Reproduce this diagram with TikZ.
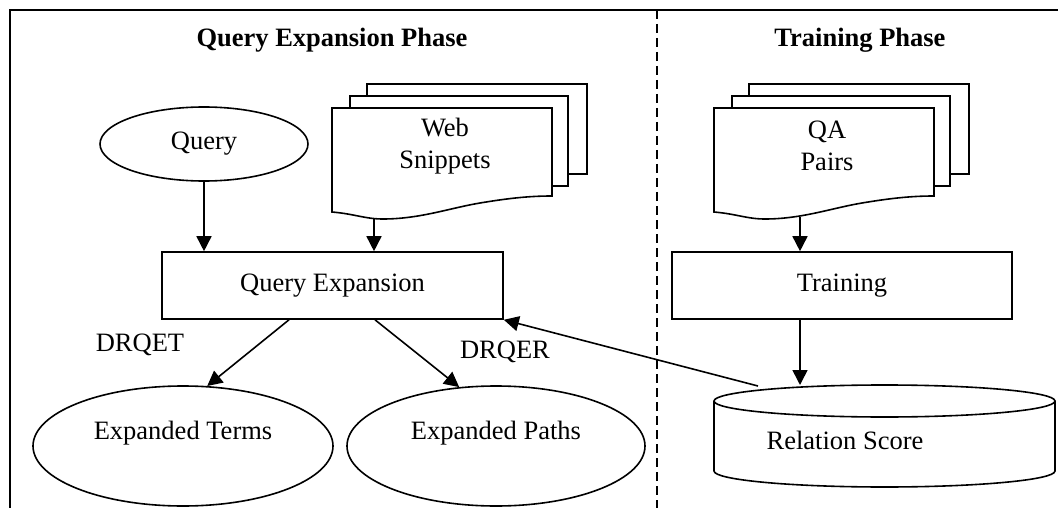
\documentclass[tikz,border=0pt]{standalone}
\usepackage{fontspec}
\setmainfont{Liberation Serif}
\usetikzlibrary{arrows.meta,shapes.geometric}

\tikzset{docs/.pic={
		\draw[fill=white] (35,24) rectangle (255,-66);
		\draw[fill=white] (18,12) rectangle (236,-78);
		\draw[fill=white] (0,0) -- (220,0) -- (220,-88)
			.. controls (198,-88) and (178,-90) .. (148,-95)
			.. controls (118,-100) and (88,-111) .. (51,-111)
			.. controls (33,-111) and (23,-106) .. (0,-104) -- cycle;
	}}

\begin{document}
\begin{tikzpicture}[x=1pt, y=1pt, line width=1.6pt,
		font=\fontsize{26.5}{32}\selectfont,
		>={Triangle[length=15pt,width=15pt]},
		box/.style={draw, rectangle, minimum width=341pt, minimum height=67pt, inner sep=0pt},
		oval/.style={draw, ellipse, inner sep=0pt}]
		\useasboundingbox (0,0) rectangle (1058,-508);
		% frame and phase divider
		\draw (10,-508) -- (10,-10) -- (1058,-10);
		\draw[dash pattern=on 9pt off 5pt, line width=1.4pt] (657,-10) -- (657,-508);
		\draw (332,-47) node [anchor=base, font=\fontsize{26.5}{32}\selectfont\bfseries] (qtitle) {Query Expansion Phase};
		\draw (860,-47) node [anchor=base, font=\fontsize{26.5}{32}\selectfont\bfseries] (ttitle) {Training Phase};
		% query expansion phase
		\draw (204,-144) node [oval, minimum width=208pt, minimum height=74pt] (query) {Query};
		\pic at (332,-108) {docs};
		\draw (445,-146) node [align=center] (ws) {Web\\Snippets};
		\coordinate (wsb) at (374,-218);
		\draw (332.5,-285.5) node [box] (qe) {Query Expansion};
		\draw (183,-446) node [oval, minimum width=300pt, minimum height=120pt, text height=18pt, text depth=32pt] (et) {Expanded Terms};
		\draw (496,-446) node [oval, minimum width=298pt, minimum height=120pt, text height=18pt, text depth=32pt] (ep) {Expanded Paths};
		\draw (140,-345) node (drqet) {DRQET};
		\draw (505,-352) node (drqer) {DRQER};
		% training phase
		\pic at (714,-108) {docs};
		\draw (827,-146) node [align=center] (qa) {QA\\Pairs};
		\coordinate (qab) at (800,-217);
		\draw (842,-285.5) node [box, minimum width=340pt] (tr) {Training};
		\draw[fill=white] (884.5,-401) ellipse [x radius=170.5pt, y radius=16pt];
		\draw (714,-401) -- (714,-471) arc [start angle=180, end angle=360, x radius=170.5pt, y radius=16pt] -- (1055,-401);
		\draw (845,-440) node (rs) {Relation Score};
		\coordinate (rstop) at (800,-385);
		\coordinate (rsout) at (758,-386);
		\path[->]
			(query) edge (query |- qe.north)
			(wsb) edge (wsb |- qe.north)
			([xshift=-43.5pt]qe.south) edge (et.68)
			([xshift=42.5pt]qe.south) edge (ep.122)
			(qab) edge (qab |- tr.north)
			(tr.south -| rstop) edge (rstop)
			(rsout) edge (qe.south east);
	\end{tikzpicture}
\end{document}
